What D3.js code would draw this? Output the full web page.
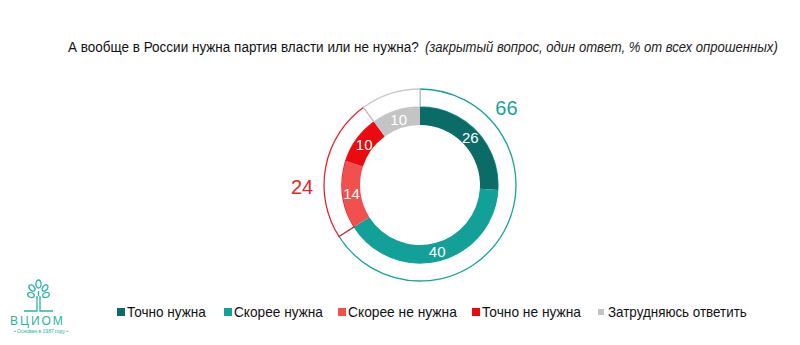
<!DOCTYPE html>
<html><head><meta charset="utf-8">
<script src="https://cdn.jsdelivr.net/npm/d3@7"></script>
<style>body{margin:0;background:#fff}svg{display:block}</style>
</head><body>
<svg id="c" width="800" height="345"></svg>
<script>
const categories = ["Точно нужна","Скорее нужна","Скорее не нужна","Точно не нужна","Затрудняюсь ответить"];
const values = [26,40,14,10,10];
const colors = ["#0b6b66","#13a098","#f2504f","#ea0a0f","#c4c4c4"];
const groupNames = ["Нужна","Не нужна","Затрудняюсь"];
const groupValues = [66,24,10];
const groupColors = ["#17a39b","#e2262c","#cccccc"];
const groupLabelColors = ["#17a39b","#e2262c",null];
const titleMain = "А вообще в России нужна партия власти или не нужна?";
const titleNote = "(закрытый вопрос, один ответ, % от всех опрошенных)";

const svg = d3.select("#c");
const font = "'Liberation Sans',Arial,sans-serif";

// Fit a text into a target width by horizontal scaling
function fitText(sel, x, y, width) {
  const w = sel.node().getComputedTextLength();
  const s = Math.min(1, width / w);
  sel.attr("x",0).attr("y",0).attr("transform",`translate(${x},${y}) scale(${s},1)`);
}

// Title
const t1 = svg.append("text").attr("font-family",font).attr("font-size",15).attr("fill","#111").text(titleMain);
fitText(t1, 68, 52, 351);
const t2 = svg.append("text").attr("font-family",font).attr("font-size",15).attr("font-style","italic").attr("fill","#222").text(titleNote);
fitText(t2, 425, 52, 353);

const cx = 420, cy = 185;
const g = svg.append("g").attr("transform",`translate(${cx},${cy})`);
const pie = d3.pie().sort(null).value(d=>d);

// Outer ring
const outerArcs = pie(groupValues);
const outerArc = d3.arc().innerRadius(78).outerRadius(96);
g.selectAll("path.o").data(outerArcs).join("path").attr("class","o")
  .attr("d",outerArc).attr("fill","#fff").attr("stroke",(d,i)=>groupColors[i]).attr("stroke-width",1.3);

// Inner ring
const innerArcs = pie(values);
const innerArc = d3.arc().innerRadius(60).outerRadius(78);
g.selectAll("path.i").data(innerArcs).join("path").attr("class","i")
  .attr("d",innerArc).attr("fill",(d,i)=>colors[i]);
g.selectAll("text.i").data(innerArcs).join("text").attr("class","i")
  .attr("transform",d=>{const [x,y]=innerArc.centroid(d);return `translate(${x},${y})`;})
  .attr("text-anchor","middle").attr("dy","0.36em")
  .attr("font-family",font).attr("font-size",15).attr("fill","#fff")
  .text(d=>d.data);

// Outer labels (angle nudges relative to arc)
const labelShift = [0.84, -0.2];
g.selectAll("text.o").data(outerArcs.filter((d,i)=>groupLabelColors[i])).join("text").attr("class","o")
  .attr("transform",(d,i)=>{
    const a = i===0 ? d.startAngle + labelShift[0] : (d.startAngle+d.endAngle)/2 + labelShift[1];
    const r = i===0 ? 116 : 118;
    return `translate(${Math.sin(a)*r},${-Math.cos(a)*r})`;})
  .attr("text-anchor","middle").attr("dy","0.36em")
  .attr("font-family",font).attr("font-size",20)
  .attr("fill",(d,i)=>groupLabelColors[i]).text(d=>d.data);

// Legend
const legX = [117,224,338,472,598];
const legW = [79,89,109,99,139];
const lg = svg.append("g");
categories.forEach((c,i)=>{
  const sz = i===4 ? 6 : 8;
  lg.append("rect").attr("x",legX[i]).attr("y",i===4?309:308).attr("width",sz).attr("height",sz).attr("fill",colors[i]);
  const tx = lg.append("text").attr("font-family",font).attr("font-size",14).attr("fill","#111").text(c);
  fitText(tx, legX[i]+10, 317, legW[i]);
});

// Logo
const lc = "#2bb3a3";
const logo = svg.append("g").attr("stroke",lc).attr("fill","none").attr("stroke-width",1.3);
logo.append("path").attr("d","M37,296 L37,311 L24,311 M40,296 L40,311 L53,311 M38.5,296 L38.5,291");
[[38.5,284,2.6,4,0],[32,288,2.4,3.6,-40],[45,288,2.4,3.6,40],[31,295,2.4,3.4,-70],[46,295,2.4,3.4,70]]
  .forEach(e=>logo.append("ellipse").attr("cx",0).attr("cy",0).attr("rx",e[2]).attr("ry",e[3])
    .attr("transform",`translate(${e[0]},${e[1]}) rotate(${e[4]})`));
const lt = svg.append("text").attr("font-family",font).attr("font-size",12).attr("fill",lc).attr("letter-spacing",2).text("ВЦИОМ");
lt.attr("x",10).attr("y",325);
svg.append("text").attr("x",41).attr("y",333).attr("text-anchor","middle").attr("font-family",font).attr("font-size",5).attr("fill",lc).text("• Основан в 1987 году •");
</script>
</body></html>
